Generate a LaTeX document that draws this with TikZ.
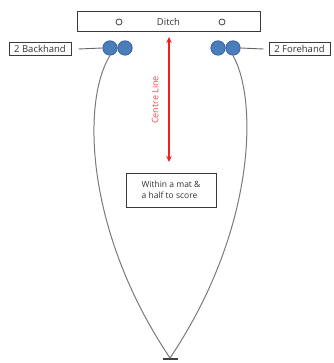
\documentclass[tikz,border=0pt]{standalone}
\usepackage{fontspec}
\setmainfont{Open Sans}
\usetikzlibrary{arrows.meta,calc}
\definecolor{boxline}{HTML}{3A3A3A}
\definecolor{labeltext}{HTML}{333333}
\definecolor{bowlfill}{HTML}{4A7EBB}
\definecolor{bowledge}{HTML}{2F5597}
\definecolor{pathgray}{HTML}{7A7A7A}
\definecolor{centrered}{HTML}{F02020}
\begin{document}
\begin{tikzpicture}[x=1pt,y=-1pt,
  label box/.style={draw=boxline,line width=1pt,inner sep=0pt,text=labeltext,font=\fontsize{8.5}{11.5}\selectfont},
  bowl/.style={circle,draw=bowledge,fill=bowlfill,line width=0.6pt,minimum size=14.5pt,inner sep=0pt},
  marker/.style={circle,draw=black!75,line width=0.8pt,minimum size=6pt,inner sep=0pt},
  link/.style={draw=black!60,line width=0.9pt},
  bowl path/.style={draw=pathgray,line width=1pt}]
\useasboundingbox (0,0) rectangle (333,363);
\fill[white] (0,0) rectangle (333,363);

% ditch strip with its two markers
\node[label box,font=\fontsize{9.5}{11}\selectfont,minimum width=183pt,minimum height=20pt] (ditch) at (168.5,22) {Ditch};
\node[marker] (m1) at (119,22) {};
\node[marker] (m2) at (222,22) {};

% labels at the sides
\node[label box,font=\fontsize{9.5}{11}\selectfont,minimum width=62pt,minimum height=13pt] (back) at (40,49) {2 Backhand};
\node[label box,font=\fontsize{9.5}{11}\selectfont,minimum width=61pt,minimum height=13pt] (fore) at (299.5,49) {2 Forehand};

% the bowls
\node[bowl] (b1) at (110,48) {};
\node[bowl] (b2) at (125,48) {};
\node[bowl] (f1) at (218,48) {};
\node[bowl] (f2) at (233,48) {};

\draw[link] ($(back.east)+(7,0)$) -- (b1.west);
\draw[link] (f2.east) -- ($(fore.west)+(-5,0)$);

% jack at the far end
\coordinate (jack) at (170,358);
\draw[draw=black!75,line width=1.2pt] (162.5,359) -- (177.5,359);

% paths of the bowls
\draw[bowl path] (b1.south) .. controls (82,100) and (84,230) .. (jack);
\draw[bowl path] (f2.south) .. controls (258,100) and (256,230) .. (jack);

% centre line
\coordinate (ctop) at (169,37);
\coordinate (cbot) at (169,162);
\draw[centrered,line width=1.4pt,{Stealth[length=6pt,width=5.5pt]}-{Stealth[length=6pt,width=5.5pt]}] (ctop) -- (cbot);
\node[text=centrered!80,rotate=90,font=\fontsize{9}{10}\selectfont] (cl) at (155,100) {Centre Line};

% scoring note
\node[label box,minimum width=90pt,minimum height=34pt,align=left] (note) at (171,190) {Within a mat \&\\a half to score};
\end{tikzpicture}
\end{document}
